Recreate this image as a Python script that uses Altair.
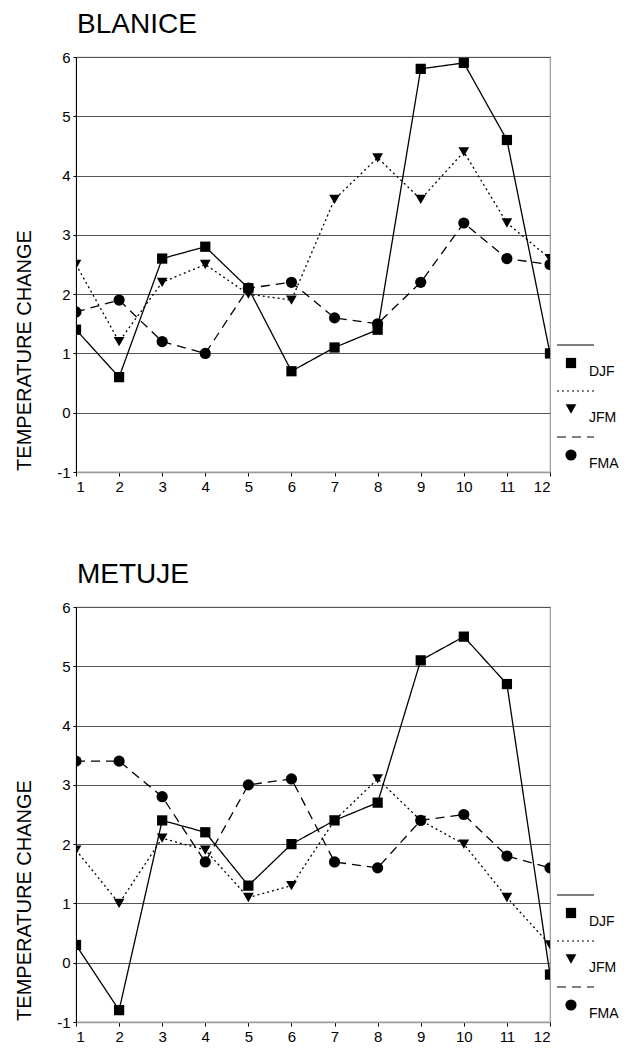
import altair as alt
import pandas as pd

months = list(range(1, 13))
series_names = ["DJF", "JFM", "FMA"]
y_ticks = [-1, 0, 1, 2, 3, 4, 5, 6]

blanice_djf = [1.4, 0.6, 2.6, 2.8, 2.1, 0.7, 1.1, 1.4, 5.8, 5.9, 4.6, 1.0]
blanice_jfm = [2.5, 1.2, 2.2, 2.5, 2.0, 1.9, 3.6, 4.3, 3.6, 4.4, 3.2, 2.6]
blanice_fma = [1.7, 1.9, 1.2, 1.0, 2.1, 2.2, 1.6, 1.5, 2.2, 3.2, 2.6, 2.5]

metuje_djf = [0.3, -0.8, 2.4, 2.2, 1.3, 2.0, 2.4, 2.7, 5.1, 5.5, 4.7, -0.2]
metuje_jfm = [1.9, 1.0, 2.1, 1.9, 1.1, 1.3, 2.4, 3.1, 2.4, 2.0, 1.1, 0.3]
metuje_fma = [3.4, 3.4, 2.8, 1.7, 3.0, 3.1, 1.7, 1.6, 2.4, 2.5, 1.8, 1.6]

FONT = "Liberation Sans"

dash_scale = alt.Scale(domain=series_names, range=[[1, 0], [2, 3], [9, 6]])
shape_scale = alt.Scale(domain=series_names, range=["square", "triangle-down", "circle"])
size_scale = alt.Scale(domain=series_names, range=[105, 125, 220])


def panel(title, djf, jfm, fma):
    rows = []
    for name, vals in zip(series_names, [djf, jfm, fma]):
        for m, v in zip(months, vals):
            rows.append({"month": m, "value": v, "series": name})
    df = pd.DataFrame(rows)
    base = alt.Chart(df)
    x = alt.X("month:Q", scale=alt.Scale(domain=[1, 12], nice=False, zero=False),
              axis=alt.Axis(values=months, title=None, grid=False,
                            labelExpr="toString(datum.value)",
                            labelFontSize=15, labelFont=FONT, tickSize=4,
                            labelPadding=3, domainColor="#999", domainWidth=1.5,
                            tickColor="#000", labelColor="#000"))
    y = alt.Y("value:Q", scale=alt.Scale(domain=[-1, 6], nice=False, zero=False),
              axis=alt.Axis(values=y_ticks, title="TEMPERATURE CHANGE",
                            labelExpr="toString(datum.value)",
                            titleFontSize=20, titleFont=FONT, titleFontWeight="normal",
                            titleX=-42, titleY=293, titleColor="#000",
                            labelFontSize=15, labelFont=FONT, labelColor="#000",
                            tickSize=3, labelPadding=3, domainColor="#000",
                            tickColor="#000", gridColor="#555", gridWidth=1))
    lines = base.mark_line(color="black", strokeWidth=1.3, clip=True).encode(
        x=x, y=y, detail="series:N",
        strokeDash=alt.StrokeDash("series:N", scale=dash_scale, legend=None))
    points = base.mark_point(filled=True, color="black", opacity=1, clip=True).encode(
        x=x, y=y,
        shape=alt.Shape("series:N", scale=shape_scale, legend=None),
        size=alt.Size("series:O", scale=size_scale, legend=None))
    main = alt.layer(lines, points).properties(
        width=474, height=415,
        view=alt.ViewBackground(stroke="#999", strokeWidth=1.2),
        title=alt.TitleParams(title, anchor="start", frame="group", fontSize=28,
                              font=FONT, fontWeight="normal", color="#000",
                              offset=-11, baseline="alphabetic", dx=1))

    leg_df = pd.DataFrame({"series": series_names, "order": [0, 1, 2]})
    lbase = alt.Chart(leg_df)
    ly = alt.Y("order:Q", scale=alt.Scale(domain=[0, 2], range=[306, 398]), axis=None)
    rules = lbase.mark_rule(color="black", strokeWidth=1.2, yOffset=-18).encode(
        x=alt.value(0), x2=alt.value(37), y=ly,
        strokeDash=alt.StrokeDash("series:N", scale=dash_scale, legend=None))
    syms = lbase.mark_point(filled=True, color="black", opacity=1).encode(
        x=alt.value(14), y=ly,
        shape=alt.Shape("series:N", scale=shape_scale, legend=None),
        size=alt.Size("series:O", scale=size_scale, legend=None))
    texts = lbase.mark_text(align="left", baseline="middle", dy=9, fontSize=14,
                            font=FONT, color="#000").encode(
        x=alt.value(32), y=ly, text="series:N")
    legend = alt.layer(rules, syms, texts).properties(width=66, height=415)
    return alt.hconcat(main, legend, spacing=4)


chart = alt.vconcat(
    panel("BLANICE", blanice_djf, blanice_jfm, blanice_fma),
    panel("METUJE", metuje_djf, metuje_jfm, metuje_fma),
    spacing=65,
).properties(
    padding={"left": 5, "top": 2, "right": 0, "bottom": 0},
    background="white",
).configure_view(stroke=None)

chart.save("out.html", embed_options={"renderer": "svg", "actions": False})
